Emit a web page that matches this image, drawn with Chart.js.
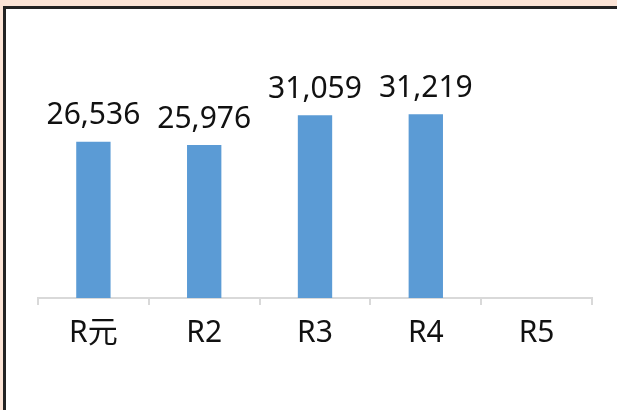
<!DOCTYPE html>
<html>
<head>
<meta charset="utf-8">
<script src="https://cdn.jsdelivr.net/npm/chart.js@4"></script>
<style>
  body { margin: 0; background: #FCE4D6; width: 617px; height: 410px; overflow: hidden; position: relative; }
  #panel { position: absolute; left: 3px; top: 6px; width: 680px; height: 460px; background: #fff; border: 3px solid #222; }
  #c { position: absolute; left: 0; top: 0; }
</style>
</head>
<body>
<div id="panel"></div>
<canvas id="c" width="617" height="410"></canvas>
<script>
const categories = ['R元', 'R2', 'R3', 'R4', 'R5'];
const values = [26536, 25976, 31059, 31219, null];

const fontFamily = '"Noto Sans", "Noto Sans CJK JP", sans-serif';

// value labels drawn above each bar
const barLabels = {
    id: 'barLabels',
    afterDatasetsDraw(chart) {
        const ctx = chart.ctx;
        const meta = chart.getDatasetMeta(0);
        ctx.save();
        ctx.font = '30px ' + fontFamily;
        ctx.fillStyle = '#111';
        ctx.textAlign = 'center';
        ctx.textBaseline = 'bottom';
        meta.data.forEach((bar, i) => {
            const v = values[i];
            if (v == null) return;
            ctx.fillText(v.toLocaleString('en-US'), bar.x, bar.y - 11);
        });
        ctx.restore();
    }
};

new Chart(document.getElementById('c'), {
    type: 'bar',
    data: {
        labels: categories,
        datasets: [{
            data: values,
            backgroundColor: '#5B9BD5',
            categoryPercentage: 1,
            barPercentage: 0.31
        }]
    },
    options: {
        responsive: false,
        animation: false,
        layout: { padding: { left: 38, right: 25, top: 92, bottom: 49 } },
        plugins: { legend: { display: false }, tooltip: { enabled: false } },
        scales: {
            x: {
                grid: {
                    offset: true,
                    drawOnChartArea: false,
                    drawTicks: true,
                    tickLength: 7,
                    color: '#D9D9D9',
                    lineWidth: 2
                },
                border: { display: true, color: '#D9D9D9', width: 2 },
                ticks: {
                    padding: 10,
                    color: '#111',
                    font: { size: 30, family: fontFamily }
                }
            },
            y: {
                display: false,
                min: 0,
                max: 35000
            }
        }
    },
    plugins: [barLabels]
});
</script>
</body>
</html>
